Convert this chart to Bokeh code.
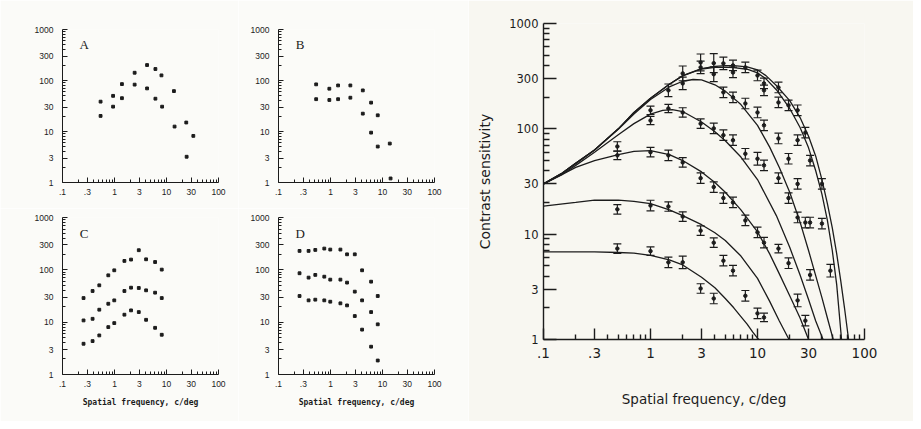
from bokeh.plotting import figure
from bokeh.layouts import row, column
from bokeh.models import (FixedTicker, Label, ColumnDataSource, Whisker, TeeHead,
                          CustomJSTickFormatter)
from bokeh.embed import file_html
from bokeh.resources import INLINE

# ---------------- tick definitions ----------------
x_ticks = [0.1, 0.3, 1, 3, 10, 30, 100]
y_ticks = [1, 3, 10, 30, 100, 300, 1000]
x_minor = [0.2, 0.4, 0.5, 0.6, 0.7, 0.8, 0.9, 2, 4, 5, 6, 7, 8, 9,
           20, 40, 50, 60, 70, 80, 90]
y_minor = [2, 4, 5, 6, 7, 8, 9, 20, 40, 50, 60, 70, 80, 90,
           200, 400, 500, 600, 700, 800, 900]
x_title = "Spatial frequency, c/deg"
y_title = "Contrast sensitivity"

# ---------------- small panels data ----------------
A_freq = [0.54, 0.54, 0.94, 0.94, 1.39, 1.39, 2.44, 2.44, 4.23, 4.23,
          6.12, 6.12, 8.0, 8.24, 13.9, 14.3, 24, 24.4, 32.8]
A_sens = [38.5, 20.2, 50, 30.7, 85, 45, 142, 83, 201, 70,
          168, 44, 126, 30.7, 62, 12.5, 15, 3.2, 8.2]

B_freq = [0.53, 0.53, 0.95, 0.95, 1.40, 1.40, 2.41, 2.41, 4.18, 4.18,
          6.04, 6.04, 8.1, 8.1, 13.8, 14.3]
B_sens = [84, 43, 69, 41.5, 80, 43, 80, 46, 64, 22.4,
          36.8, 9.5, 20.8, 5.07, 5.8, 1.2]

CD_freq = [0.254, 0.379, 0.51, 0.76, 0.99, 1.55, 2.08, 2.93, 4.05, 6.04, 8.1]
C_high = [28.9, 39.4, 50.6, 78.6, 98, 148, 157, 237, 159, 141, 101]
C_mid = [10.8, 11.6, 17.3, 22.5, 26.1, 39.4, 45.6, 45, 40.6, 36.6, 28.9]
C_low = [3.87, 4.35, 5.58, 8.05, 9.6, 13.9, 16.8, 15.6, 11.1, 7.8, 5.75]
D_high = [230, 230, 240, 255, 244, 244, 198, 198, 98, 59.4, 31.6]
D_mid = [86, 71, 80, 74, 65, 65, 57, 38.3, 26.1, 15.6, 9.1]
D_low = [31.6, 26.1, 26.9, 26.1, 24.6, 22.9, 20.9, 13.1, 7.2, 3.4, 1.85]

# ---------------- big panel: model curves ----------------
c1_f = [0.1, 0.2, 0.3, 0.5, 0.7, 1, 1.5, 2, 3, 4, 5, 6, 7, 8, 9, 10, 10.3]
c1_s = [6.8, 6.8, 6.8, 6.7, 6.6, 6.3, 5.7, 5.1, 3.9, 3.1, 2.45, 2.0, 1.65, 1.4, 1.18, 1.03, 1.0]
c2_f = [0.1, 0.2, 0.3, 0.5, 0.7, 1, 1.5, 2, 3, 4, 5, 7, 10, 13, 16, 19.7]
c2_s = [18.5, 20, 21, 21, 20.5, 19.5, 17, 15, 12.3, 10.3, 8.7, 6.2, 3.8, 2.3, 1.5, 1.0]
c3_f = [0.1, 0.15, 0.2, 0.3, 0.5, 0.7, 1, 1.5, 2, 3, 4, 5, 7, 10, 13, 16, 20, 25, 30]
c3_s = [30, 37, 43, 50, 57, 61, 62, 57, 50, 39, 31, 25, 17, 10.5, 6.5, 4.2, 2.6, 1.6, 1.0]
c4_f = [0.1, 0.15, 0.2, 0.3, 0.5, 0.7, 1, 1.3, 1.6, 2, 3, 4, 5, 7, 10, 15, 20, 25, 30, 35, 41]
c4_s = [30, 37, 45, 60, 88, 112, 138, 150, 152, 146, 116, 94, 77, 54, 33, 15, 7.5, 4.1, 2.4, 1.5, 1.0]
c5_f = [0.1, 0.15, 0.2, 0.3, 0.5, 0.7, 1, 1.5, 2, 2.5, 3, 4, 5, 7, 10, 13, 16, 20, 25, 30, 40, 45, 51]
c5_s = [30, 38, 47, 63, 99, 138, 190, 250, 283, 294, 291, 262, 228, 170, 108, 67, 43, 25, 13, 7, 2.5, 1.6, 1.0]
c6_f = [0.1, 0.15, 0.2, 0.3, 0.5, 0.7, 1, 1.5, 2, 3, 4, 5, 6, 8, 10, 12, 15, 20, 25, 30, 35, 40, 45, 50, 55, 61]
c6_s = [30, 38, 47, 63, 100, 143, 195, 265, 318, 370, 383, 385, 382, 368, 340, 298, 235, 156, 103, 66, 40, 24, 13.5, 7, 3.3, 1.0]
c7_f = [0.1, 0.15, 0.2, 0.3, 0.5, 0.7, 1, 1.5, 2, 3, 4, 5, 6, 8, 10, 12, 15, 20, 25, 30, 35, 40, 45, 50, 55, 60, 65, 71]
c7_s = [30, 38, 47, 63, 100, 143, 195, 265, 320, 373, 392, 398, 398, 388, 362, 320, 258, 185, 128, 85, 55, 33, 19.5, 11.5, 6.5, 3.6, 2.0, 1.0]
curves = [(c1_f, c1_s), (c2_f, c2_s), (c3_f, c3_s), (c4_f, c4_s),
          (c5_f, c5_s), (c6_f, c6_s), (c7_f, c7_s)]

# ---------------- big panel: measured points (freq, sensitivity, log10 half error) ----------------
pt_freq = [0.49, 0.49, 0.49, 0.49,
           1.0, 1.0, 1.0, 1.0, 1.0,
           1.47, 1.47, 1.47, 1.47, 1.47,
           2.0, 2.0, 2.0, 2.0, 2.0, 2.0,
           2.94, 2.94, 2.94, 2.94, 2.94, 2.94,
           3.9, 3.9, 3.9, 3.9, 3.9, 3.9,
           4.8, 4.8, 4.8, 4.8, 4.8,
           5.9, 5.9, 5.9, 5.9, 5.9, 5.9,
           7.7, 7.7, 7.7, 7.7, 7.7,
           10, 10, 10, 10, 10,
           11.5, 11.5, 11.5, 11.5, 11.5, 11.5,
           15.7, 15.7, 15.7, 15.7, 15.7,
           19.5, 19.5, 19.5, 19.5,
           23.7, 23.7, 23.7, 23.7, 23.7,
           28, 28, 28,
           31, 31, 31,
           40, 40,
           48]
pt_sens = [68, 56, 17.2, 7.3,
           150, 120, 60, 18.7, 6.9,
           232, 156, 56, 18.3, 5.4,
           336, 270, 143, 48, 14.7, 5.4,
           427, 383, 112, 34, 10.8, 3.05,
           420, 330, 101, 28, 8.3, 2.45,
           418, 222, 87, 22, 5.6,
           400, 343, 199, 78, 20, 4.5,
           383, 174, 58, 13.5, 2.6,
           321, 143, 52, 10.4, 1.77,
           270, 232, 108, 45, 8.3, 1.62,
           247, 178, 81, 34, 7.3,
           167, 52, 22, 5.3,
           150, 78, 30, 14.4, 2.35,
           92, 12.9, 1.51,
           50, 12.9, 4.1,
           30, 12.6,
           4.5]
pt_err = [0.045, 0.04, 0.045, 0.045,
          0.04, 0.04, 0.045, 0.05, 0.04,
          0.06, 0.04, 0.05, 0.045, 0.05,
          0.07, 0.06, 0.045, 0.045, 0.045, 0.06,
          0.08, 0.06, 0.045, 0.05, 0.045, 0.045,
          0.09, 0.07, 0.05, 0.05, 0.045, 0.05,
          0.06, 0.05, 0.05, 0.05, 0.05,
          0.05, 0.05, 0.05, 0.05, 0.05, 0.05,
          0.05, 0.05, 0.05, 0.05, 0.05,
          0.05, 0.05, 0.06, 0.05, 0.05,
          0.05, 0.05, 0.05, 0.05, 0.05, 0.04,
          0.05, 0.05, 0.05, 0.05, 0.04,
          0.05, 0.05, 0.05, 0.05,
          0.05, 0.05, 0.05, 0.05, 0.06,
          0.05, 0.05, 0.05,
          0.05, 0.05, 0.05,
          0.05, 0.05,
          0.06]

INK = "#1c1c1c"
BG_L = "#fbfbf8"
BG_R = "#f8f7f1"

fmt_js = "return tick < 1 ? String(tick).replace('0.', '.') : String(tick);"


def style_axes(p, font, xsize, ysize, maj_in, min_in, lw, xstand, ystand, ymaj_in=None, ymin_in=None):
    p.outline_line_color = None
    p.grid.visible = False
    for ax, ticks, minor, size in ((p.xaxis, x_ticks, x_minor, xsize), (p.yaxis, y_ticks, y_minor, ysize)):
        ax.ticker = FixedTicker(ticks=ticks, minor_ticks=minor)
        ax.formatter = CustomJSTickFormatter(code=fmt_js)
        ax.major_label_text_font = font
        ax.major_label_text_font_size = size
        ax.major_label_text_color = INK
        ax.axis_line_color = INK
        ax.axis_line_width = lw
        ax.major_tick_line_color = INK
        ax.minor_tick_line_color = INK
        ax.major_tick_line_width = lw
        ax.minor_tick_line_width = lw
        ax.major_tick_out = 0
        ax.minor_tick_out = 0
    p.xaxis.major_tick_in = maj_in
    p.xaxis.minor_tick_in = min_in
    p.yaxis.major_tick_in = ymaj_in if ymaj_in is not None else maj_in
    p.yaxis.minor_tick_in = ymin_in if ymin_in is not None else min_in
    p.xaxis.major_label_standoff = xstand
    p.yaxis.major_label_standoff = ystand


def small_panel(letter, w, h, bl, br, bt, bb, with_title):
    p = figure(width=w, height=h, x_axis_type="log", y_axis_type="log",
               x_range=(0.1, 100), y_range=(1, 1000),
               output_backend="svg", toolbar_location=None,
               min_border_left=bl, min_border_right=br,
               min_border_top=bt, min_border_bottom=bb)
    p.background_fill_color = BG_L
    p.border_fill_color = BG_L
    style_axes(p, "Liberation Sans", "8.5px", "8.5px", 5, 3, 1, 6, 9)
    if with_title:
        p.xaxis.axis_label = x_title
        p.xaxis.axis_label_text_font = "DejaVu Sans Mono"
        p.xaxis.axis_label_text_font_style = "bold"
        p.xaxis.axis_label_text_font_size = "8px"
        p.xaxis.axis_label_text_color = INK
        p.xaxis.axis_label_standoff = 8
    p.add_layout(Label(x=0.26, y=500, text=letter, text_font="Liberation Serif",
                       text_font_size="13px", text_color=INK,
                       text_align="center", text_baseline="middle"))
    return p


def dots(p, fx, fy):
    p.scatter(fx, fy, marker="square", size=2.8, color=INK)


pA = small_panel("A", 238, 208, 62, 20, 29, 25, False)
dots(pA, A_freq, A_sens)
pB = small_panel("B", 230, 208, 40, 34, 28, 26, False)
dots(pB, B_freq, B_sens)
pC = small_panel("C", 238, 213, 62, 20, 9, 47, True)
for ser in (C_high, C_mid, C_low):
    dots(pC, CD_freq, ser)
pD = small_panel("D", 230, 213, 40, 34, 9, 47, True)
for ser in (D_high, D_mid, D_low):
    dots(pD, CD_freq, ser)

# ---------------- big panel ----------------
pE = figure(width=445, height=421, x_axis_type="log", y_axis_type="log",
            x_range=(0.1, 100), y_range=(1, 1000),
            output_backend="svg", toolbar_location=None,
            min_border_left=75, min_border_right=49,
            min_border_top=23, min_border_bottom=82)
pE.background_fill_color = BG_R
pE.border_fill_color = BG_R
style_axes(pE, "DejaVu Sans", "13.5px", "11.5px", 11, 5, 1.4, 8, 5, ymaj_in=13, ymin_in=6)
pE.xaxis.axis_label = x_title
pE.yaxis.axis_label = y_title
for ax in (pE.xaxis, pE.yaxis):
    ax.axis_label_text_font = "DejaVu Sans"
    ax.axis_label_text_font_style = "normal"
    ax.axis_label_text_color = INK
pE.xaxis.axis_label_text_font_size = "13.5px"
pE.yaxis.axis_label_text_font_size = "14px"
pE.xaxis.axis_label_standoff = 30
pE.yaxis.axis_label_standoff = 13

for fx, fy in curves:
    pE.line(fx, fy, line_color=INK, line_width=1.3)

lo = [s / 10 ** e for s, e in zip(pt_sens, pt_err)]
hi = [s * 10 ** e for s, e in zip(pt_sens, pt_err)]
src = ColumnDataSource(dict(f=pt_freq, s=pt_sens, lo=lo, hi=hi))
pE.add_layout(Whisker(base="f", lower="lo", upper="hi", source=src, dimension="height",
                      line_color=INK, line_width=1.2,
                      upper_head=TeeHead(size=8, line_color=INK, line_width=1.2),
                      lower_head=TeeHead(size=8, line_color=INK, line_width=1.2)))
pE.scatter("f", "s", source=src, marker="circle", size=3.5, color=INK)

layout = row(column(row(pA, pB), row(pC, pD)), pE)

open("out.html", "w").write(file_html(layout, INLINE))
